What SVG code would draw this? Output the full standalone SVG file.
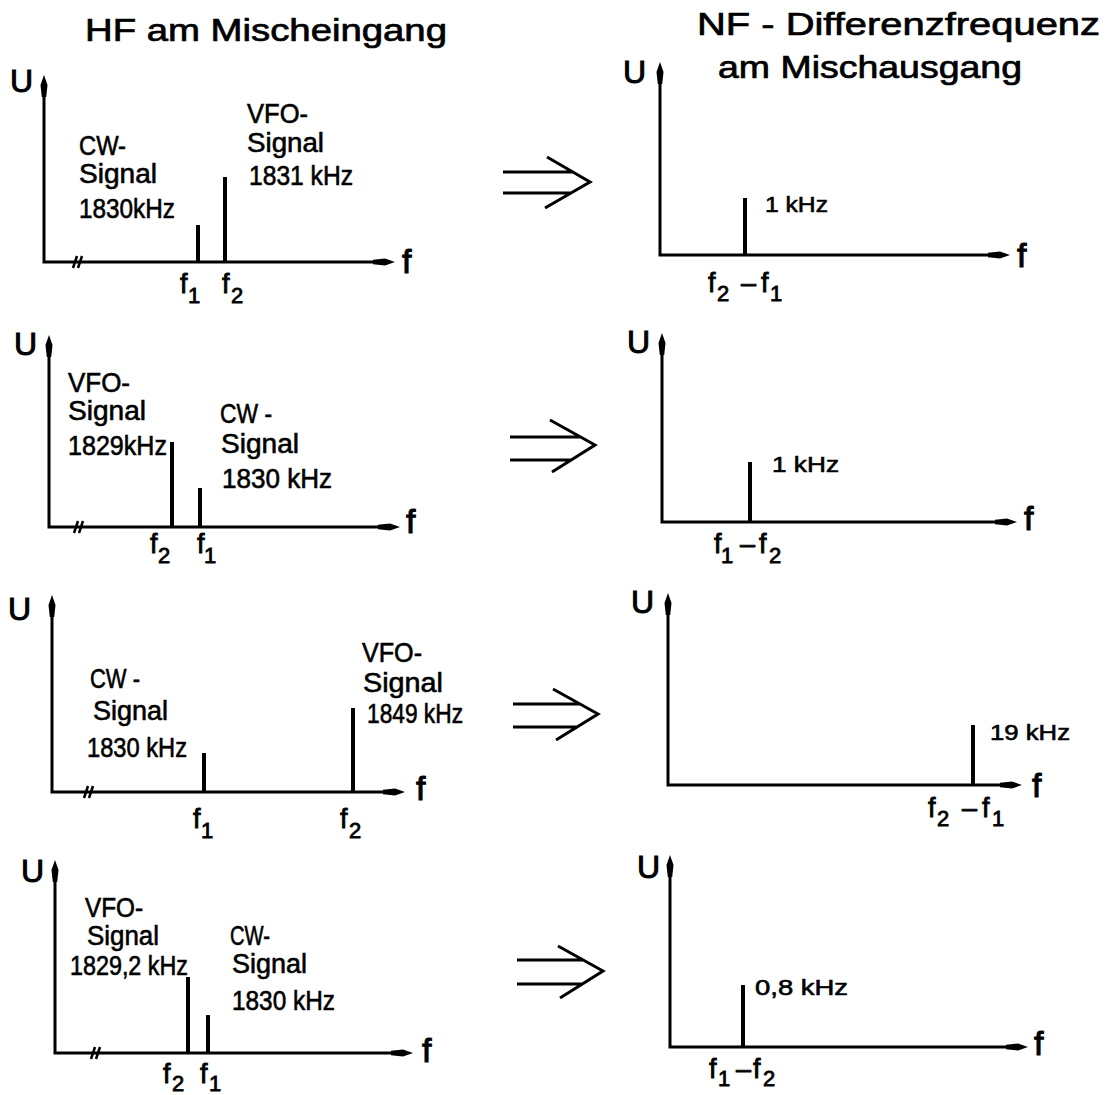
<svg xmlns="http://www.w3.org/2000/svg" width="1115" height="1095" viewBox="0 0 1115 1095">
<style>
.ax{fill:none;stroke:#000;stroke-width:3;marker-start:url(#ah);marker-end:url(#ah)}
.sp{stroke:#000;stroke-width:4;stroke-linecap:butt}
.br{fill:none;stroke:#000;stroke-width:2.5}
.da{fill:none;stroke:#000;stroke-width:3;stroke-linejoin:miter}
text{font-family:"Liberation Sans",Arial,sans-serif;fill:#000;stroke:#000;stroke-width:0.6}
.t{font-size:27px}
.s{font-size:22px}
.U{font-size:32px;stroke-width:1}
.F{font-size:34px;stroke-width:1}
.fl{font-size:27px;stroke-width:0.8}
.sb{font-size:22px}
.h{font-size:31px;stroke-width:0.7}
</style>
<defs>
<marker id="ah" markerUnits="userSpaceOnUse" markerWidth="30" markerHeight="12" viewBox="-12 -6 30 12" refX="0" refY="0" orient="auto-start-reverse" overflow="visible">
<path d="M14,0 L4,-3.5 L-8,-2.2 L-8,2.2 L4,3.5 Z" fill="#000"/>
</marker>
</defs>
<rect width="1115" height="1095" fill="#fff"/>

<g id="titles">
<text class="h" x="85" y="41" textLength="362" lengthAdjust="spacingAndGlyphs">HF am Mischeingang</text>
<text class="h" x="697" y="35" textLength="403" lengthAdjust="spacingAndGlyphs">NF - Differenzfrequenz</text>
<text class="h" x="718" y="78" textLength="304" lengthAdjust="spacingAndGlyphs">am Mischausgang</text>
</g>

<!-- Row 1 left -->
<g id="p1-in">
<path class="ax" d="M44,89 L44,262 L381,262"/>
<path class="br" d="M73,268 L77,256 M78,268 L82,256"/>
<line class="sp" x1="198" y1="225" x2="198" y2="262"/>
<line class="sp" x1="225" y1="177" x2="225" y2="262"/>
<text class="U" x="10" y="92">U</text>
<text class="F" x="402" y="273">f</text>
<text class="t" x="79" y="155" textLength="47" lengthAdjust="spacingAndGlyphs">CW-</text>
<text class="t" x="79" y="183" textLength="78" lengthAdjust="spacingAndGlyphs">Signal</text>
<text class="t" x="79" y="218" textLength="96" lengthAdjust="spacingAndGlyphs">1830kHz</text>
<text class="t" x="247" y="123" textLength="61" lengthAdjust="spacingAndGlyphs">VFO-</text>
<text class="t" x="247" y="152" textLength="77" lengthAdjust="spacingAndGlyphs">Signal</text>
<text class="t" x="249" y="185" textLength="104" lengthAdjust="spacingAndGlyphs">1831 kHz</text>
<text class="fl" x="180" y="293">f<tspan class="sb" x="188" y="303">1</tspan></text>
<text class="fl" x="222" y="293">f<tspan class="sb" x="231" y="303">2</tspan></text>
</g>

<!-- Row 1 right -->
<g id="p1-out">
<path class="ax" d="M660,76 L660,255 L996,255"/>
<line class="sp" x1="745" y1="198" x2="745" y2="255"/>
<text class="U" x="623" y="83">U</text>
<text class="F" x="1017" y="267">f</text>
<text class="s" x="765" y="212" textLength="63" lengthAdjust="spacingAndGlyphs">1 kHz</text>
<text class="fl" x="708" y="292">f<tspan class="sb" x="717" y="301">2</tspan><tspan x="741" y="292">–</tspan><tspan x="761" y="292">f</tspan><tspan class="sb" x="770" y="301">1</tspan></text>
</g>

<!-- Row 2 left -->
<g id="p2-in">
<path class="ax" d="M49,349 L49,527 L386,527"/>
<path class="br" d="M74,533 L78,521 M79,533 L83,521"/>
<line class="sp" x1="172" y1="442" x2="172" y2="527"/>
<line class="sp" x1="200" y1="488" x2="200" y2="527"/>
<text class="U" x="14" y="355">U</text>
<text class="F" x="406" y="533">f</text>
<text class="t" x="68" y="392" textLength="62" lengthAdjust="spacingAndGlyphs">VFO-</text>
<text class="t" x="68" y="420" textLength="78" lengthAdjust="spacingAndGlyphs">Signal</text>
<text class="t" x="68" y="455" textLength="99" lengthAdjust="spacingAndGlyphs">1829kHz</text>
<text class="t" x="220" y="423" textLength="52" lengthAdjust="spacingAndGlyphs">CW -</text>
<text class="t" x="221" y="453" textLength="78" lengthAdjust="spacingAndGlyphs">Signal</text>
<text class="t" x="222" y="488" textLength="110" lengthAdjust="spacingAndGlyphs">1830 kHz</text>
<text class="fl" x="150" y="553">f<tspan class="sb" x="158" y="563">2</tspan></text>
<text class="fl" x="197" y="553">f<tspan class="sb" x="204" y="563">1</tspan></text>
</g>

<!-- Row 2 right -->
<g id="p2-out">
<path class="ax" d="M662,347 L662,522 L1003,522"/>
<line class="sp" x1="750" y1="462" x2="750" y2="522"/>
<text class="U" x="627" y="353">U</text>
<text class="F" x="1024" y="530">f</text>
<text class="s" x="772" y="472" textLength="67" lengthAdjust="spacingAndGlyphs">1 kHz</text>
<text class="fl" x="714" y="553">f<tspan class="sb" x="721" y="563">1</tspan><tspan x="740" y="553">–</tspan><tspan x="759" y="553">f</tspan><tspan class="sb" x="769" y="563">2</tspan></text>
</g>

<!-- Row 3 left -->
<g id="p3-in">
<path class="ax" d="M52,609 L52,792 L391,792"/>
<path class="br" d="M84,798 L88,786 M89,798 L93,786"/>
<line class="sp" x1="204" y1="753" x2="204" y2="792"/>
<line class="sp" x1="353" y1="708" x2="353" y2="792"/>
<text class="U" x="8" y="620">U</text>
<text class="F" x="416" y="800">f</text>
<text class="t" x="90" y="688" textLength="50" lengthAdjust="spacingAndGlyphs">CW -</text>
<text class="t" x="93" y="720" textLength="75" lengthAdjust="spacingAndGlyphs">Signal</text>
<text class="t" x="87" y="757" textLength="100" lengthAdjust="spacingAndGlyphs">1830 kHz</text>
<text class="t" x="362" y="662" textLength="60" lengthAdjust="spacingAndGlyphs">VFO-</text>
<text class="t" x="363" y="692" textLength="80" lengthAdjust="spacingAndGlyphs">Signal</text>
<text class="t" x="367" y="723" textLength="96" lengthAdjust="spacingAndGlyphs">1849 kHz</text>
<text class="fl" x="193" y="828">f<tspan class="sb" x="201" y="838">1</tspan></text>
<text class="fl" x="340" y="828">f<tspan class="sb" x="349" y="838">2</tspan></text>
</g>

<!-- Row 3 right -->
<g id="p3-out">
<path class="ax" d="M668,607 L668,785 L1008,785"/>
<line class="sp" x1="973" y1="725" x2="973" y2="785"/>
<text class="U" x="631" y="613">U</text>
<text class="F" x="1032" y="797">f</text>
<text class="s" x="990" y="740" textLength="80" lengthAdjust="spacingAndGlyphs">19 kHz</text>
<text class="fl" x="928" y="817">f<tspan class="sb" x="937" y="826">2</tspan><tspan x="962" y="817">–</tspan><tspan x="982" y="817">f</tspan><tspan class="sb" x="992" y="826">1</tspan></text>
</g>

<!-- Row 4 left -->
<g id="p4-in">
<path class="ax" d="M55,874 L55,1053 L399,1053"/>
<path class="br" d="M91,1059 L95,1047 M96,1059 L100,1047"/>
<line class="sp" x1="188" y1="977" x2="188" y2="1053"/>
<line class="sp" x1="208" y1="1015" x2="208" y2="1053"/>
<text class="U" x="21" y="882">U</text>
<text class="F" x="422" y="1062">f</text>
<text class="t" x="85" y="917" textLength="58" lengthAdjust="spacingAndGlyphs">VFO-</text>
<text class="t" x="87" y="945" textLength="72" lengthAdjust="spacingAndGlyphs">Signal</text>
<text class="t" x="70" y="975" textLength="118" lengthAdjust="spacingAndGlyphs">1829,2 kHz</text>
<text class="t" x="230" y="945" textLength="40" lengthAdjust="spacingAndGlyphs">CW-</text>
<text class="t" x="232" y="973" textLength="75" lengthAdjust="spacingAndGlyphs">Signal</text>
<text class="t" x="232" y="1010" textLength="103" lengthAdjust="spacingAndGlyphs">1830 kHz</text>
<text class="fl" x="163" y="1083">f<tspan class="sb" x="172" y="1091">2</tspan></text>
<text class="fl" x="200" y="1083">f<tspan class="sb" x="209" y="1091">1</tspan></text>
</g>

<!-- Row 4 right -->
<g id="p4-out">
<path class="ax" d="M670,869 L670,1047 L1014,1047"/>
<line class="sp" x1="743" y1="985" x2="743" y2="1047"/>
<text class="U" x="637" y="878">U</text>
<text class="F" x="1034" y="1055">f</text>
<text class="s" x="755" y="995" textLength="93" lengthAdjust="spacingAndGlyphs">0,8 kHz</text>
<text class="fl" x="709" y="1078">f<tspan class="sb" x="718" y="1086">1</tspan><tspan x="736" y="1078">–</tspan><tspan x="753" y="1078">f</tspan><tspan class="sb" x="763" y="1086">2</tspan></text>
</g>

<g id="connectors">
<path class="da" d="M503,172 L573,172 M503,193 L571,193 M547,157 L590,182 L545,208"/>
<path class="da" d="M510,437 L580,437 M510,460 L571,460 M550,420 L595,445 L552,472"/>
<path class="da" d="M513,704 L580,704 M513,727 L577,727 M553,689 L598,714 L556,740"/>
<path class="da" d="M517,960 L583,960 M517,984 L582,984 M558,946 L603,971 L560,998"/>
</g>
</svg>
